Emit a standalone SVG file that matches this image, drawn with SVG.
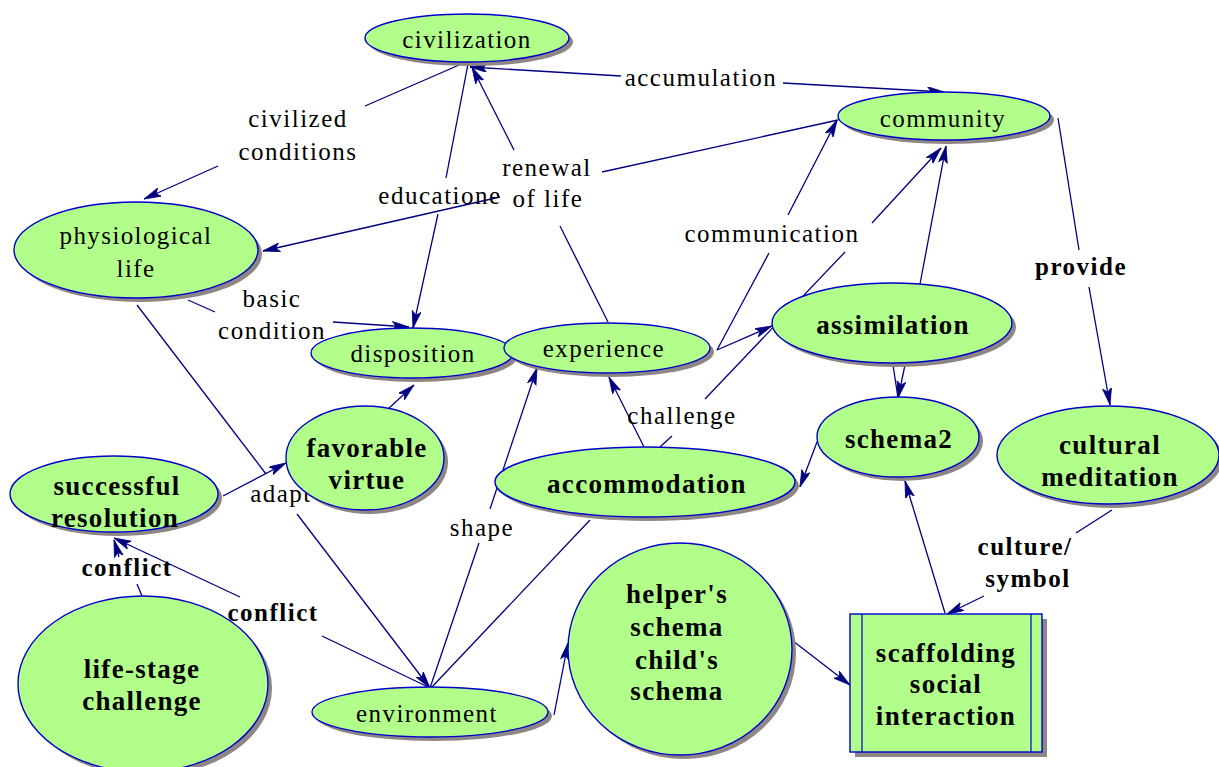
<svg xmlns="http://www.w3.org/2000/svg" width="1219" height="767" viewBox="0 0 1219 767" font-family="'Liberation Serif', 'DejaVu Serif', serif">
  <defs>
    <marker id="arrow" markerUnits="userSpaceOnUse" markerWidth="18" markerHeight="10" refX="17" refY="4.5" orient="auto">
      <path d="M0,0 L17,4.5 L0,9 L4,4.5 z" fill="#000080" stroke="#000080" stroke-width="0.8"/>
    </marker>
  </defs>
  <style>
    .edge { stroke: #000080; stroke-width: 1.3; fill: none; }
    .shadow { fill: #8e8585; }
    .node { fill: #b2fe8b; stroke: #0000cc; stroke-width: 1.4; }
    .line { stroke: #0000cc; stroke-width: 1.2; }
    .t { font-family: 'Liberation Serif', 'DejaVu Serif', serif; fill: #000000; text-anchor: middle; }
    .reg { font-size: 25px; letter-spacing: 1.4px; }
    .bold { font-size: 27px; font-weight: bold; letter-spacing: 1.3px; }
    .elab { font-size: 25px; letter-spacing: 1.5px; }
    .eblab { font-size: 25px; font-weight: bold; letter-spacing: 1.5px; }
  </style>
  <rect width="1219" height="767" fill="#ffffff"/>

  <!-- connectors -->
  <g id="connectors">
    <!-- civilization -> physiological life -->
    <line class="edge" x1="466" y1="62" x2="365" y2="106"/>
    <line class="edge" x1="218" y1="166" x2="144" y2="199" marker-end="url(#arrow)"/>
    <!-- accumulation (both ways) -->
    <line class="edge" x1="621" y1="76" x2="470" y2="67" marker-end="url(#arrow)"/>
    <line class="edge" x1="783" y1="83" x2="944" y2="92" marker-end="url(#arrow)"/>
    <!-- civilization -> disposition -->
    <line class="edge" x1="468" y1="64" x2="446" y2="178"/>
    <line class="edge" x1="438" y1="214" x2="413" y2="328" marker-end="url(#arrow)"/>
    <!-- experience -> civilization -->
    <line class="edge" x1="608" y1="322" x2="560" y2="226"/>
    <line class="edge" x1="514" y1="150" x2="472" y2="67" marker-end="url(#arrow)"/>
    <!-- community -> physiological life -->
    <line class="edge" x1="838" y1="120" x2="602" y2="172"/>
    <line class="edge" x1="500" y1="197" x2="263" y2="251" marker-end="url(#arrow)"/>
    <!-- physiological life -> disposition -->
    <line class="edge" x1="188" y1="300" x2="215" y2="312"/>
    <line class="edge" x1="333" y1="322" x2="409" y2="327" marker-end="url(#arrow)"/>
    <!-- physiological life -> environment -->
    <line class="edge" x1="137" y1="305" x2="266" y2="474"/>
    <line class="edge" x1="297" y1="514" x2="430" y2="688" marker-end="url(#arrow)"/>
    <!-- successful resolution -> favorable virtue -->
    <line class="edge" x1="223" y1="496" x2="286" y2="463" marker-end="url(#arrow)"/>
    <!-- favorable virtue -> disposition -->
    <line class="edge" x1="388" y1="409" x2="414" y2="385" marker-end="url(#arrow)"/>
    <!-- environment -> experience -->
    <line class="edge" x1="430" y1="688" x2="479" y2="543"/>
    <line class="edge" x1="490" y1="509" x2="537" y2="368" marker-end="url(#arrow)"/>
    <!-- accommodation - environment -->
    <line class="edge" x1="590" y1="520" x2="431" y2="688"/>
    <!-- accommodation -> experience -->
    <line class="edge" x1="644" y1="447" x2="609" y2="377" marker-end="url(#arrow)"/>
    <!-- accommodation -> community -->
    <line class="edge" x1="660" y1="447" x2="672" y2="436"/>
    <line class="edge" x1="705" y1="399" x2="845" y2="252"/>
    <line class="edge" x1="872" y1="223" x2="941" y2="148" marker-end="url(#arrow)"/>
    <!-- experience -> assimilation -->
    <line class="edge" x1="717" y1="350" x2="772" y2="326" marker-end="url(#arrow)"/>
    <!-- experience -> community -->
    <line class="edge" x1="717" y1="350" x2="769" y2="253"/>
    <line class="edge" x1="788" y1="215" x2="837" y2="120" marker-end="url(#arrow)"/>
    <!-- assimilation -> community -->
    <line class="edge" x1="920" y1="284" x2="946" y2="146" marker-end="url(#arrow)"/>
    <!-- assimilation -> schema2 -->
    <line class="edge" x1="893" y1="365" x2="898" y2="398"/>
    <line class="edge" x1="905" y1="365" x2="898" y2="398" marker-end="url(#arrow)"/>
    <!-- schema2 -> accommodation -->
    <line class="edge" x1="817" y1="442" x2="800" y2="487" marker-end="url(#arrow)"/>
    <!-- community -> cultural meditation -->
    <line class="edge" x1="1058" y1="118" x2="1079" y2="250"/>
    <line class="edge" x1="1089" y1="287" x2="1110" y2="405" marker-end="url(#arrow)"/>
    <!-- cultural meditation -> scaffolding -->
    <line class="edge" x1="1112" y1="510" x2="1076" y2="533"/>
    <line class="edge" x1="984" y1="596" x2="947" y2="614" marker-end="url(#arrow)"/>
    <!-- scaffolding -> schema2 -->
    <line class="edge" x1="945" y1="613" x2="905" y2="481" marker-end="url(#arrow)"/>
    <!-- helper's schema -> scaffolding -->
    <line class="edge" x1="793" y1="641" x2="850" y2="685" marker-end="url(#arrow)"/>
    <!-- environment -> helper's schema -->
    <line class="edge" x1="554" y1="715" x2="568" y2="643" marker-end="url(#arrow)"/>
    <!-- life-stage challenge -> successful resolution -->
    <line class="edge" x1="142" y1="596" x2="137" y2="584"/>
    <line class="edge" x1="119" y1="557" x2="114" y2="540" marker-end="url(#arrow)"/>
    <!-- environment -> successful resolution -->
    <line class="edge" x1="428" y1="687" x2="322" y2="636"/>
    <line class="edge" x1="240" y1="597" x2="114" y2="538" marker-end="url(#arrow)"/>

    <!-- connector labels -->
    <text class="t elab" x="298" y="127">civilized</text>
    <text class="t elab" x="298" y="160">conditions</text>
    <text class="t elab" x="701" y="86">accumulation</text>
    <text class="t elab" x="440" y="204">educatione</text>
    <text class="t elab" x="547" y="176">renewal</text>
    <text class="t elab" x="548" y="207">of life</text>
    <text class="t elab" x="772" y="242">communication</text>
    <text class="t elab" x="272" y="307">basic</text>
    <text class="t elab" x="272" y="339">condition</text>
    <text class="t elab" x="281" y="502">adapt</text>
    <text class="t elab" x="482" y="536">shape</text>
    <text class="t elab" x="682" y="424">challenge</text>
    <text class="t eblab" x="1081" y="275">provide</text>
    <text class="t eblab" x="1025" y="555">culture/</text>
    <text class="t eblab" x="1028" y="587">symbol</text>
    <text class="t eblab" x="127" y="576">conflict</text>
    <text class="t eblab" x="273" y="621">conflict</text>
  </g>

  <g id="civilization">
    <ellipse class="shadow" cx="471" cy="42" rx="102" ry="24"/>
    <ellipse class="node" cx="467" cy="38" rx="102" ry="24"/>
    <text class="t reg" x="467" y="48">civilization</text>
  </g>
  <g id="community">
    <ellipse class="shadow" cx="948" cy="120" rx="106" ry="24"/>
    <ellipse class="node" cx="944" cy="116" rx="106" ry="24"/>
    <text class="t reg" x="943" y="127">community</text>
  </g>
  <g id="physiological-life">
    <ellipse class="shadow" cx="140" cy="254" rx="122" ry="48"/>
    <ellipse class="node" cx="136" cy="250" rx="122" ry="48"/>
    <text class="t reg" x="136" y="244">physiological</text>
    <text class="t reg" x="136" y="277">life</text>
  </g>
  <g id="disposition">
    <ellipse class="shadow" cx="416" cy="357" rx="101" ry="25"/>
    <ellipse class="node" cx="412" cy="353" rx="101" ry="25"/>
    <text class="t reg" x="413" y="362">disposition</text>
  </g>
  <g id="experience">
    <ellipse class="shadow" cx="611" cy="352" rx="103" ry="25"/>
    <ellipse class="node" cx="607" cy="348" rx="103" ry="25"/>
    <text class="t reg" x="604" y="357">experience</text>
  </g>
  <g id="assimilation">
    <ellipse class="shadow" cx="896" cy="327" rx="120" ry="40"/>
    <ellipse class="node" cx="892" cy="323" rx="120" ry="40"/>
    <text class="t bold" x="893" y="334">assimilation</text>
  </g>
  <g id="schema2">
    <ellipse class="shadow" cx="902" cy="441" rx="81" ry="40"/>
    <ellipse class="node" cx="898" cy="437" rx="81" ry="40"/>
    <text class="t bold" x="899" y="448">schema2</text>
  </g>
  <g id="cultural-meditation">
    <ellipse class="shadow" cx="1112" cy="459" rx="111" ry="49"/>
    <ellipse class="node" cx="1108" cy="455" rx="111" ry="49"/>
    <text class="t bold" x="1110" y="454">cultural</text>
    <text class="t bold" x="1110" y="486">meditation</text>
  </g>
  <g id="successful-resolution">
    <ellipse class="shadow" cx="118" cy="498" rx="104" ry="38"/>
    <ellipse class="node" cx="114" cy="494" rx="104" ry="38"/>
    <text class="t bold" x="117" y="495">successful</text>
    <text class="t bold" x="115" y="527">resolution</text>
  </g>
  <g id="favorable-virtue">
    <ellipse class="shadow" cx="369" cy="462" rx="79" ry="52"/>
    <ellipse class="node" cx="365" cy="458" rx="79" ry="52"/>
    <text class="t bold" x="367" y="457">favorable</text>
    <text class="t bold" x="367" y="489">virtue</text>
  </g>
  <g id="accommodation">
    <ellipse class="shadow" cx="649" cy="486" rx="150" ry="35"/>
    <ellipse class="node" cx="645" cy="482" rx="150" ry="35"/>
    <text class="t bold" x="647" y="493">accommodation</text>
  </g>
  <g id="life-stage-challenge">
    <ellipse class="shadow" cx="147" cy="688" rx="125" ry="88"/>
    <ellipse class="node" cx="143" cy="684" rx="125" ry="88"/>
    <text class="t bold" x="142" y="678">life-stage</text>
    <text class="t bold" x="142" y="710">challenge</text>
  </g>
  <g id="environment">
    <ellipse class="shadow" cx="434" cy="716" rx="118" ry="25"/>
    <ellipse class="node" cx="430" cy="712" rx="118" ry="25"/>
    <text class="t reg" x="427" y="722">environment</text>
  </g>
  <g id="helpers-schema">
    <ellipse class="shadow" cx="684" cy="653" rx="112" ry="106"/>
    <ellipse class="node" cx="680" cy="649" rx="112" ry="106"/>
    <text class="t bold" x="677" y="603">helper's</text>
    <text class="t bold" x="677" y="636">schema</text>
    <text class="t bold" x="677" y="669">child's</text>
    <text class="t bold" x="677" y="700">schema</text>
  </g>
  <g id="scaffolding-social-interaction">
    <rect class="shadow" x="855" y="619" width="192" height="138"/>
    <rect class="node" x="850" y="614" width="192" height="138"/>
    <line class="line" x1="862" y1="614" x2="862" y2="752"/>
    <line class="line" x1="1031" y1="614" x2="1031" y2="752"/>
    <text class="t bold" x="946" y="662">scaffolding</text>
    <text class="t bold" x="946" y="693">social</text>
    <text class="t bold" x="946" y="725">interaction</text>
  </g>
</svg>
